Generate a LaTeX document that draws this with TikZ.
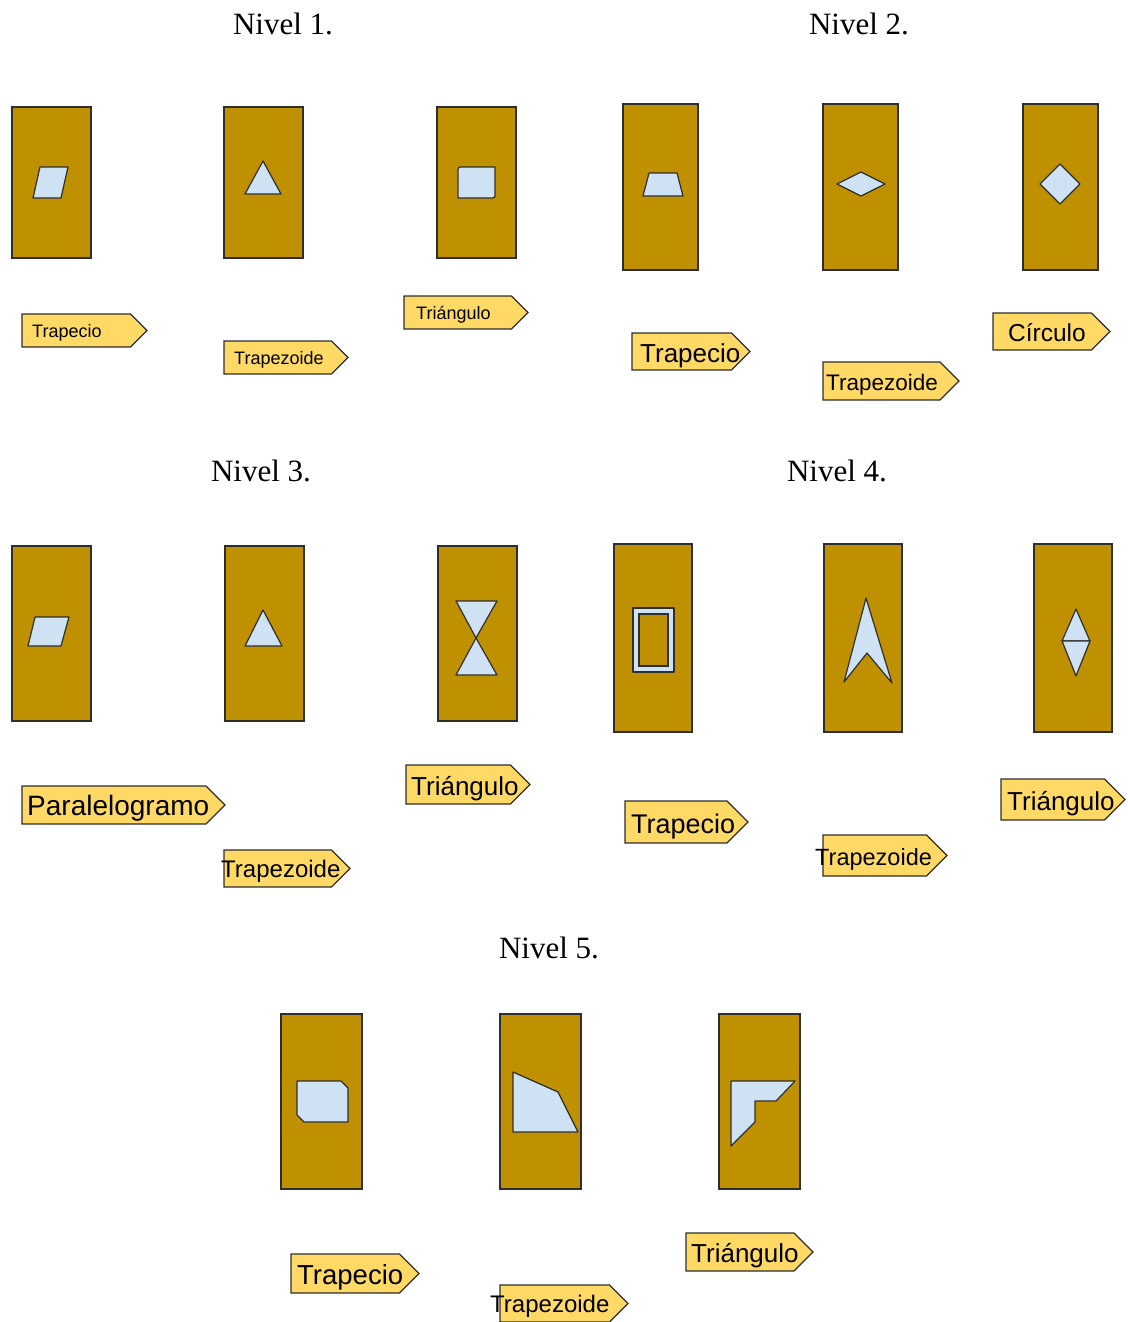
\documentclass[tikz,border=0pt]{standalone}
\usepackage{fontspec}
\setmainfont{Liberation Serif}
\newfontfamily\arialfont{Liberation Sans}
\definecolor{oro}{HTML}{BF9000}
\definecolor{celeste}{HTML}{CFE2F3}
\definecolor{amarillo}{HTML}{FFD966}
\definecolor{borde}{HTML}{2E2E2E}
\newcommand{\letra}[1]{\arialfont\fontsize{#1}{#1}\selectfont}
\tikzset{
  caja/.style={fill=oro,draw=borde,line width=1.4pt},
  figura/.style={fill=celeste,draw=borde,line width=1.2pt,line join=round},
  etiqueta/.style={fill=amarillo,draw=borde,line width=1.2pt},
  titulo/.style={anchor=base,inner sep=0pt,font=\fontsize{31}{31}\selectfont},
  rotulo/.style={anchor=base west,inner sep=0pt},
}
% pentagon label box: (x1,y1) top left, (x2,y2) bottom right with tip
\newcommand{\flecha}[4]{\filldraw[etiqueta] (#1,#2) -- ({#3-(#4-#2)/2},#2)
  -- (#3,{(#2+#4)/2}) -- ({#3-(#4-#2)/2},#4) -- (#1,#4) -- cycle;}

\begin{document}
\begin{tikzpicture}[x=1pt,y=-1pt]
\path[use as bounding box] (0,0) rectangle (1127,1322);

% titles
\node[titulo] (n1) at (283,35) {Nivel 1.};
\node[titulo] (n2) at (859,35) {Nivel 2.};
\node[titulo] (n3) at (261,481) {Nivel 3.};
\node[titulo] (n4) at (837,481) {Nivel 4.};
\node[titulo] (n5) at (549,958) {Nivel 5.};

% cards
\foreach \x in {12,224,437} \draw[caja] (\x,107) rectangle ++(79,151);
\foreach \x in {623,823,1023} \draw[caja] (\x,104) rectangle ++(75,166);
\foreach \x in {12,225,438} \draw[caja] (\x,546) rectangle ++(79,175);
\foreach \x in {614,824,1034} \draw[caja] (\x,544) rectangle ++(78,188);
\foreach \x in {281,500,719} \draw[caja] (\x,1014) rectangle ++(81,175);

% Nivel 1 figures
\draw[figura] (40,167) -- (68,167) -- (61,198) -- (33,198) -- cycle;
\draw[figura] (263,161) -- (281,194) -- (245,194) -- cycle;
\draw[figura] (458,172) .. controls (458,167) .. (463,167) -- (495,167) -- (495,193)
  .. controls (495,198) .. (490,198) -- (458,198) -- cycle;

% Nivel 2 figures
\draw[figura] (649,173) -- (677,173) -- (683,196) -- (643,196) -- cycle;
\draw[figura] (837,184) -- (861,172) -- (885,184) -- (861,196) -- cycle;
\draw[figura] (1040,184) -- (1060,164) -- (1080,184) -- (1060,204) -- cycle;

% Nivel 3 figures
\draw[figura] (35,617) -- (69,617) -- (61,646) -- (28,646) -- cycle;
\draw[figura] (263,610) -- (282,646) -- (245,646) -- cycle;
\draw[figura] (456,601) -- (497,601) -- (476,638) -- cycle;
\draw[figura] (476,638) -- (497,675) -- (456,675) -- cycle;

% Nivel 4 figures
\draw[figura] (633,608) rectangle (674,672);
\draw[caja,line width=1.2pt] (639,614) rectangle (668,666);
\draw[figura] (866,598) -- (892,683) -- (867,653) -- (844,682) -- cycle;
\draw[figura] (1076,609) -- (1090,641) -- (1062,641) -- cycle;
\draw[figura] (1062,641) -- (1090,641) -- (1076,676) -- cycle;

% Nivel 5 figures
\draw[figura] (297,1081) -- (341,1081) -- (348,1088) -- (348,1122) -- (304,1122)
  -- (297,1115) -- cycle;
\draw[figura] (513,1072) -- (558,1092) -- (578,1132) -- (513,1132) -- cycle;
\draw[figura] (731,1081) -- (795,1081) -- (776,1101) -- (755,1101) -- (755,1122)
  -- (731,1146) -- cycle;

% labels Nivel 1
\flecha{22}{314}{147}{347}
\node[rotulo,font=\letra{18}] (e11) at (32,337.5) {Trapecio};
\flecha{224}{341}{348}{374}
\node[rotulo,font=\letra{18}] (e12) at (234,364.5) {Trapezoide};
\flecha{404}{296}{528}{329}
\node[rotulo,font=\letra{18}] (e13) at (416,319.5) {Triángulo};

% labels Nivel 2
\flecha{632}{333}{750}{370}
\node[rotulo,font=\letra{26}] (e21) at (640,362) {Trapecio};
\flecha{823}{362}{959}{400}
\node[rotulo,font=\letra{22.5}] (e22) at (826,390) {Trapezoide};
\flecha{993}{313}{1110}{350}
\node[rotulo,font=\letra{24.5}] (e23) at (1008,341) {Círculo};

% labels Nivel 3
\flecha{22}{786}{225}{824}
\node[rotulo,font=\letra{28}] (e31) at (27,815.5) {Paralelogramo};
\flecha{224}{850}{350}{887}
\node[rotulo,font=\letra{24}] (e32) at (221,877.5) {Trapezoide};
\flecha{406}{765}{530}{804}
\node[rotulo,font=\letra{26}] (e33) at (411,795) {Triángulo};

% labels Nivel 4
\flecha{625}{801}{748}{843}
\node[rotulo,font=\letra{27}] (e41) at (631,833) {Trapecio};
\flecha{823}{835}{947}{876}
\node[rotulo,font=\letra{23.5}] (e42) at (815,865) {Trapezoide};
\flecha{1001}{779}{1125}{820}
\node[rotulo,font=\letra{26}] (e43) at (1007,810) {Triángulo};

% labels Nivel 5
\flecha{291}{1254}{419}{1293}
\node[rotulo,font=\letra{27.5}] (e51) at (297,1284) {Trapecio};
\flecha{500}{1285}{628}{1322}
\node[rotulo,font=\letra{24}] (e52) at (490,1312.5) {Trapezoide};
\flecha{686}{1233}{813}{1271}
\node[rotulo,font=\letra{26}] (e53) at (691,1262) {Triángulo};
\end{tikzpicture}
\end{document}
